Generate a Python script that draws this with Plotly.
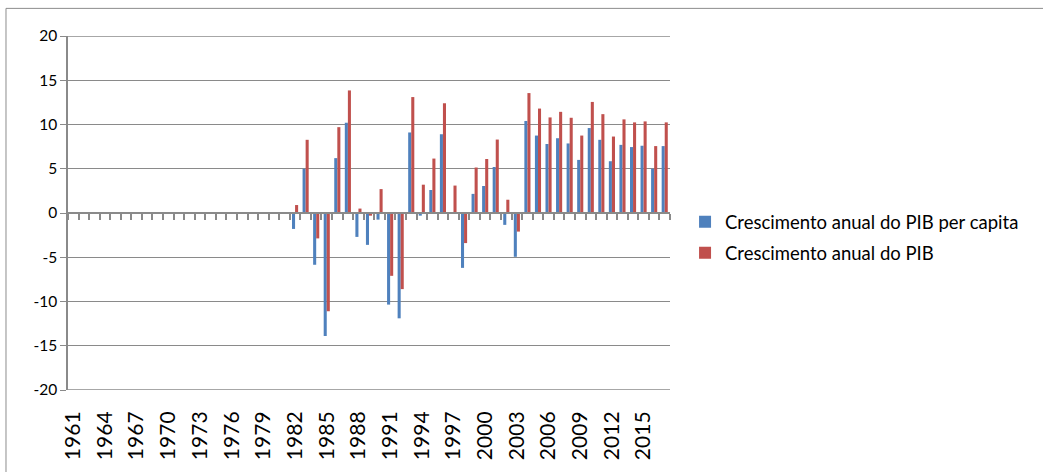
import plotly.graph_objects as go

years = [str(y) for y in range(1961, 2018)]
# 1961-1981 sem dados
pib_pc = [None] * 21 + [
    -1.8, 5.0, -5.85, -13.9, 6.2, 10.2, -2.7, -3.6, -0.75, -10.35, -11.9, 9.1,
    -0.3, 2.6, 8.9, None, -6.2, 2.16, 3.05, 5.2, -1.34, -4.95, 10.4, 8.75,
    7.8, 8.45, 7.86, 6.0, 9.6, 8.27, 5.85, 7.7, 7.45, 7.6, 5.0, 7.56]
pib = [None] * 21 + [
    0.9, 8.27, -2.87, -11.1, 9.7, 13.85, 0.5, -0.3, 2.7, -7.1, -8.6, 13.1,
    3.2, 6.15, 12.4, 3.1, -3.4, 5.14, 6.1, 8.3, 1.5, -2.1, 13.55, 11.8,
    10.8, 11.43, 10.76, 8.75, 12.55, 11.17, 8.64, 10.58, 10.24, 10.35, 7.56, 10.24]
tick_years = [str(y) for y in range(1961, 2018, 3)]
y_ticks = [-20, -15, -10, -5, 0, 5, 10, 15, 20]
y_ticktext = ["-20", "-15", "-10", "-5", "0", "5", "10", "15", "20"]
y_limits = [-20, 20]

name_pc = "Crescimento anual do PIB per capita"
name_pib = "Crescimento anual do PIB"

grid = "#8a8a8a"
font = "Lato"

fig = go.Figure()
fig.add_trace(go.Bar(x=years, y=pib_pc, name=name_pc, marker_color="#4F81BD",
                     marker_line_width=0, legendgroup="a"))
fig.add_trace(go.Bar(x=years, y=pib, name=name_pib, marker_color="#C0504D",
                     marker_line_width=0, legendgroup="b"))
# traço auxiliar para exibir o eixo de categorias na linha do zero
fig.add_trace(go.Scatter(x=[None], y=[None], xaxis="x2", showlegend=False,
                         hoverinfo="skip", mode="markers"))

fig.update_layout(
    width=1043, height=472,
    margin=dict(l=68, r=373, t=36, b=78),
    paper_bgcolor="white", plot_bgcolor="white",
    font=dict(family=font, size=15, color="black"),
    barmode="group", bargap=0.42, bargroupgap=0,
    showlegend=True,
    legend=dict(x=1.025, y=0.43, xanchor="left", yanchor="middle",
                font=dict(family=font, size=18.5, color="black"),
                tracegroupgap=4, traceorder="grouped", bgcolor="rgba(0,0,0,0)",
                itemwidth=30),
    xaxis=dict(type="category", tickmode="array", tickvals=tick_years,
               ticktext=tick_years, tickangle=-90, ticks="outside", ticklen=12,
               tickcolor="rgba(0,0,0,0)", showgrid=False, showline=False,
               zeroline=False, range=[-0.5, len(years) - 0.5],
               tickfont=dict(family=font, size=21)),
    xaxis2=dict(overlaying="x", anchor="free", position=0.5, side="bottom",
                range=[-0.5, len(years) - 0.5], tickmode="linear", tick0=0.5, dtick=1,
                ticks="outside", ticklen=6, tickwidth=1.5, tickcolor=grid,
                showticklabels=False, showline=True, linecolor=grid, linewidth=1.5,
                showgrid=False, zeroline=False),
    yaxis=dict(range=y_limits, tickmode="array", tickvals=y_ticks, ticktext=y_ticktext,
               showgrid=True, gridcolor=grid,
               gridwidth=1.3, zeroline=False, showline=True, linecolor=grid,
               linewidth=1.5, ticks="outside", ticklen=6, tickcolor=grid,
               tickfont=dict(family=font, size=15.5)),
)

# linhas de grade nos limites do eixo (±20)
for yv in y_limits:
    fig.add_shape(type="line", xref="paper", yref="y", x0=0, x1=1, y0=yv, y1=yv,
                  line=dict(color=grid, width=1.3), layer="below")

# borda da área do gráfico (ultrapassa a imagem à direita e embaixo)
fig.add_shape(type="rect", xref="paper", yref="paper",
              x0=-0.103, x1=1.75, y0=-0.3, y1=1.078,
              line=dict(color="#8c8c8c", width=1), fillcolor="rgba(0,0,0,0)")

fig.write_html("out.html", config={"displayModeBar": False},
               post_script="document.body.style.margin='0';")
